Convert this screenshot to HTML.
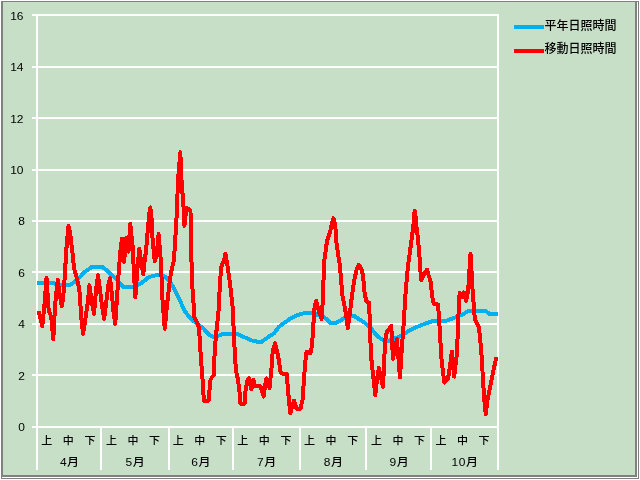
<!DOCTYPE html>
<html lang="ja"><head><meta charset="utf-8"><title>日照時間</title>
<style>html,body{margin:0;padding:0;background:#fff}svg{display:block}text{font-family:"Liberation Sans","Noto Sans CJK JP",sans-serif;font-size:12px;fill:#000}.j{font-family:"Liberation Sans","Noto Sans CJK JP",sans-serif;font-size:12px;font-weight:500}</style></head><body>
<svg width="640" height="480" viewBox="0 0 640 480">
<rect x="0" y="0" width="640" height="480" fill="#ffffff"/>
<g shape-rendering="crispEdges">
<rect x="1" y="1" width="638" height="478" fill="#808080"/>
<rect x="2" y="2" width="636" height="476" fill="#ffffff"/>
<rect x="1" y="1" width="636" height="476" fill="#808080"/>
<rect x="3" y="2" width="632" height="473" fill="#c7dfc7"/>
<rect x="32" y="14" width="467" height="2" fill="#fff"/>
<rect x="32" y="66" width="467" height="2" fill="#fff"/>
<rect x="32" y="117" width="467" height="2" fill="#fff"/>
<rect x="32" y="169" width="467" height="2" fill="#fff"/>
<rect x="32" y="220" width="467" height="2" fill="#fff"/>
<rect x="32" y="271" width="467" height="2" fill="#fff"/>
<rect x="32" y="323" width="467" height="2" fill="#fff"/>
<rect x="32" y="374" width="467" height="2" fill="#fff"/>
<rect x="32" y="426" width="467" height="2" fill="#fff"/>
<rect x="36" y="14" width="2" height="456" fill="#fff"/>
<rect x="497" y="14" width="2" height="456" fill="#fff"/>
<rect x="100" y="426" width="2" height="44" fill="#fff"/>
<rect x="168" y="426" width="2" height="44" fill="#fff"/>
<rect x="232" y="426" width="2" height="44" fill="#fff"/>
<rect x="299" y="426" width="2" height="44" fill="#fff"/>
<rect x="365" y="426" width="2" height="44" fill="#fff"/>
<rect x="430" y="426" width="2" height="44" fill="#fff"/>
</g>
<polyline shape-rendering="crispEdges" fill="none" stroke="#00b0f0" stroke-width="4" stroke-linejoin="round" points="37.1,283 54,283 57,284.7 70.5,284.8 74,282.4 79.25,277.75 84.5,272.1 88.25,269.5 91.5,267.2 102.7,267.2 108,271.25 114.4,277.5 120.6,283.75 124,287.3 133.4,287.5 141,283.4 149,277 157,275 160,274.8 166,277 172.5,285.8 177,294 182,305 185,311.5 191,319 197.5,324 203.75,328.75 208.4,334.2 214,337.3 222.5,334.2 238,334.2 246,338 253.75,341.25 261.5,342 267.8,337.3 274,333.4 278.75,327 285,322.3 291.25,318 296,315.6 303.75,313.3 313,313.3 324,317 330.3,322.7 335,323.4 339.7,321 344.4,318 353.75,315.6 358.4,318.75 364.7,322.7 371,328.5 377.2,336 381.9,339.5 388.6,340.8 398.75,337 406.6,332.2 417.5,326.7 425.3,323.6 433,321 446.9,320.6 453,318.3 462.5,314.4 468.75,311 486,311 489,313.6 497.5,313.6"/>
<polyline shape-rendering="crispEdges" fill="none" stroke="#ff0000" stroke-width="4" stroke-linejoin="round" points="38.8,311 40.4,318.5 42.3,326.3 44.5,304 46.5,278 48.6,309 49.2,312 51.2,316.5 53.3,339 55.1,305 57.7,280 59.8,295 61.7,306 63,299 63.75,290 64.9,275 65.6,262 66.2,251 68.4,226 70,232.5 71,240.5 72,249 73,257.5 74,268 76.6,277.5 78.1,283 79.4,290.5 80.2,298 80.5,306 81.3,318 83.1,333.8 85.5,318 87.6,304 88.6,294 89.4,285.25 91.5,300 94,313.8 96,290 98,275 100,290 102,306 104.2,318.8 106.5,300 108.5,284 110,278 112,295 113.5,312 115.2,324 117,298 118.5,275 120.5,250 122,238.5 124,262 126.3,238 128.5,251.5 130.2,223.5 132.5,245 135.3,297.5 137.5,268 139.3,249 141.3,262 143.3,274.5 144.5,262 146,251 147,239 148,228 149,216 150.3,207.5 151.5,218 152.4,237 153.4,248 154.8,261.5 156.6,255.5 157.6,245 158.6,234 159.6,246 160.9,262 162.5,300 164.7,328.8 167,305 170,278.75 172,268 174,260 175.5,235 176.7,215 178,181 179.1,167 180.3,152.2 180.9,166 181.75,185 183.3,202 184.4,225.8 186.5,207.75 188.9,209 190.5,211.5 191,245 192.2,284 194.5,318 197,322 199,328 199.8,341 201.4,364.7 203,385 203.8,400.7 206,401.2 208.5,400.7 209.5,390 210.5,380 212,377 214,375 214.7,349 217,325.6 218.6,310 220.1,281 221.2,268 222,264.5 224.2,260 225.4,254 226.9,262 227.75,268 228.9,275.5 229.8,282 232.7,307.5 234.2,341 235.8,369.4 238,380 239.5,392 240.5,403.8 244.5,403.8 245.5,391 247.5,380 249,378 251.4,389.5 253.3,380 255,386 260.5,386.5 263.6,396.5 266.25,378.4 269.5,388 271.3,371 272.8,350 275.2,343.4 278.3,357 280.6,372 281.6,373.5 286.7,373.5 287.7,387 289.2,402.5 290.3,413 293.9,400.5 296.5,408.5 300.5,408.5 302.5,400 304,379 305.6,358.75 306.6,352 310.5,353 312,346 313,329.7 314.7,306 316.25,300.7 319,312 321.7,318.8 322.8,300 323.3,285 324.4,259.7 327,241 330.25,231.25 331.75,223.5 333.4,218.2 334.7,223 335.8,231 336.2,241 337.5,250 339.7,264.4 341.25,280 342,293.75 343.6,301.5 346,314 347.8,328.2 349.8,314 352.2,293.75 354.5,279 356.5,270 358.75,264.6 361,268 363,275 364.7,293.75 366.25,301 369.4,303 369.6,322 370.4,340.6 371.6,362 373.4,377.5 375.3,395 377,380 378.8,368 381,378 383.1,387 384,362 385.5,338.4 387,331.5 391.25,326 393,358.8 396.9,339.2 400,377.6 401.9,346.25 403.4,327.5 405.5,294 407.8,267.5 409.6,254 411.3,242 412.2,235 413.1,228 414,219.5 414.6,210.8 415.5,216 416,224 417.2,232 418.3,243 419.4,254.7 420.3,270 421.3,280 424,274 427,269.7 430.5,281.5 432.8,300.3 434,304 438,304.5 439,317.5 440.2,338.4 441.7,362 444.4,382.6 448,378.5 449.5,369.7 451.9,351.6 454.2,376.6 456.6,356 458,330 458.8,305 459.7,293 461.9,297 464,292.5 466.2,301 468.3,289 470.5,254 472.6,290 474.8,319 477,323 479,328 480.3,340 481.6,356 483,379.7 484.3,400 485.7,414 487.5,400 490,387.5 492.5,375 494.8,364 496.5,357"/>
<text transform="translate(23.5,20) scale(1,0.93)" text-anchor="end">16</text>
<text transform="translate(23.5,71) scale(1,0.93)" text-anchor="end">14</text>
<text transform="translate(23.5,123) scale(1,0.93)" text-anchor="end">12</text>
<text transform="translate(23.5,174) scale(1,0.93)" text-anchor="end">10</text>
<text transform="translate(25,225) scale(1,0.93)" text-anchor="end">8</text>
<text transform="translate(25,277) scale(1,0.93)" text-anchor="end">6</text>
<text transform="translate(25,328) scale(1,0.93)" text-anchor="end">4</text>
<text transform="translate(25,380) scale(1,0.93)" text-anchor="end">2</text>
<text transform="translate(25,431) scale(1,0.93)" text-anchor="end">0</text>
<text class="j" transform="translate(46.8,444) scale(1,0.92)" text-anchor="middle" style="font-size:11px">上</text>
<text class="j" transform="translate(68.3,444) scale(1,0.92)" text-anchor="middle" style="font-size:11px">中</text>
<text class="j" transform="translate(89.9,444) scale(1,0.92)" text-anchor="middle" style="font-size:11px">下</text>
<text class="j" transform="translate(69.7,466) scale(1,0.9)" text-anchor="middle" style="letter-spacing:0.5px">4月</text>
<text class="j" transform="translate(111.4,444) scale(1,0.92)" text-anchor="middle" style="font-size:11px">上</text>
<text class="j" transform="translate(132.9,444) scale(1,0.92)" text-anchor="middle" style="font-size:11px">中</text>
<text class="j" transform="translate(154.5,444) scale(1,0.92)" text-anchor="middle" style="font-size:11px">下</text>
<text class="j" transform="translate(135.4,466) scale(1,0.9)" text-anchor="middle" style="letter-spacing:0.5px">5月</text>
<text class="j" transform="translate(178.2,444) scale(1,0.92)" text-anchor="middle" style="font-size:11px">上</text>
<text class="j" transform="translate(199.7,444) scale(1,0.92)" text-anchor="middle" style="font-size:11px">中</text>
<text class="j" transform="translate(221.3,444) scale(1,0.92)" text-anchor="middle" style="font-size:11px">下</text>
<text class="j" transform="translate(201.1,466) scale(1,0.9)" text-anchor="middle" style="letter-spacing:0.5px">6月</text>
<text class="j" transform="translate(242.8,444) scale(1,0.92)" text-anchor="middle" style="font-size:11px">上</text>
<text class="j" transform="translate(264.3,444) scale(1,0.92)" text-anchor="middle" style="font-size:11px">中</text>
<text class="j" transform="translate(285.9,444) scale(1,0.92)" text-anchor="middle" style="font-size:11px">下</text>
<text class="j" transform="translate(266.8,466) scale(1,0.9)" text-anchor="middle" style="letter-spacing:0.5px">7月</text>
<text class="j" transform="translate(309.6,444) scale(1,0.92)" text-anchor="middle" style="font-size:11px">上</text>
<text class="j" transform="translate(331.1,444) scale(1,0.92)" text-anchor="middle" style="font-size:11px">中</text>
<text class="j" transform="translate(352.7,444) scale(1,0.92)" text-anchor="middle" style="font-size:11px">下</text>
<text class="j" transform="translate(333.6,466) scale(1,0.9)" text-anchor="middle" style="letter-spacing:0.5px">8月</text>
<text class="j" transform="translate(376.4,444) scale(1,0.92)" text-anchor="middle" style="font-size:11px">上</text>
<text class="j" transform="translate(397.9,444) scale(1,0.92)" text-anchor="middle" style="font-size:11px">中</text>
<text class="j" transform="translate(419.4,444) scale(1,0.92)" text-anchor="middle" style="font-size:11px">下</text>
<text class="j" transform="translate(399.3,466) scale(1,0.9)" text-anchor="middle" style="letter-spacing:0.5px">9月</text>
<text class="j" transform="translate(441.0,444) scale(1,0.92)" text-anchor="middle" style="font-size:11px">上</text>
<text class="j" transform="translate(462.5,444) scale(1,0.92)" text-anchor="middle" style="font-size:11px">中</text>
<text class="j" transform="translate(484.1,444) scale(1,0.92)" text-anchor="middle" style="font-size:11px">下</text>
<text class="j" transform="translate(465.0,466) scale(1,0.9)" text-anchor="middle" style="letter-spacing:0.5px">10月</text>
<g shape-rendering="crispEdges"><rect x="514" y="25" width="30" height="4" fill="#00b0f0"/><rect x="514" y="49" width="30" height="4" fill="#ff0000"/></g>
<text class="j" x="544.5" y="29.5">平年日照時間</text>
<text class="j" x="544.5" y="52.5">移動日照時間</text>
</svg></body></html>
